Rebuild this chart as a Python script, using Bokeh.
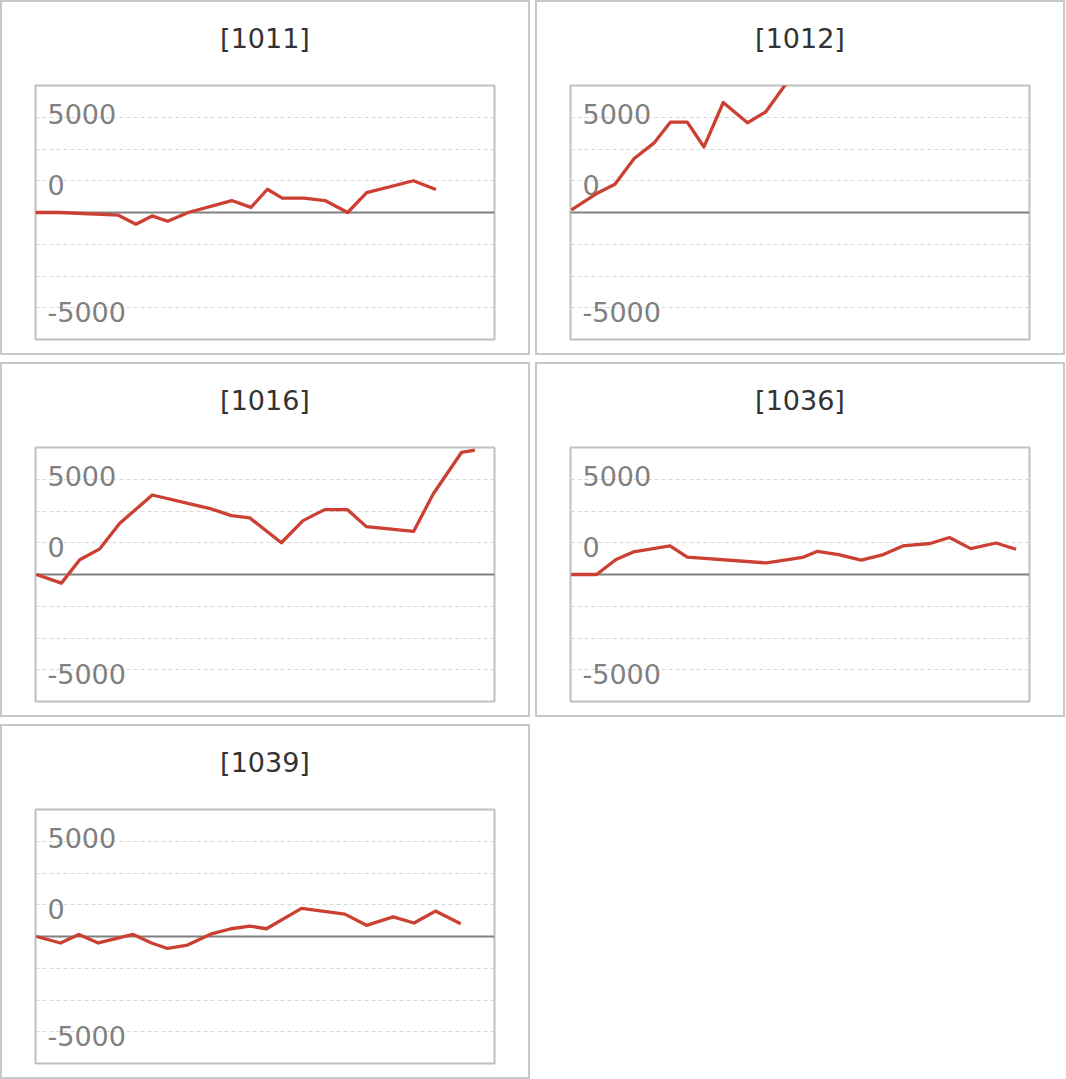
from bokeh.plotting import figure
from bokeh.models import Range1d, FixedTicker, Grid, Title
from bokeh.layouts import column, row
from bokeh.embed import file_html
from bokeh.resources import INLINE
from bokeh.core.properties import value

# ---- data ----
names = ["1011", "1012", "1016", "1036", "1039"]

x_1011 = [0, 1.33, 4.51, 5.47, 6.35, 7.2, 8.32, 10.69, 11.74, 12.63, 13.44, 14.62, 15.77, 17.0, 18.04, 20.58, 21.81]
y_1011 = [0, 0, -210, -930, -270, -690, 0, 940, 400, 1830, 1130, 1130, 940, 0, 1560, 2500, 1810]

x_1012 = [0.05, 1.42, 2.42, 3.47, 4.54, 5.45, 6.36, 7.27, 8.32, 9.64, 10.64, 11.82]
y_1012 = [200, 1490, 2230, 4250, 5460, 7120, 7120, 5160, 8660, 7070, 7930, 10300]

x_1016 = [0.05, 1.41, 2.41, 3.5, 4.59, 6.36, 9.58, 10.67, 11.67, 13.39, 14.57, 15.75, 16.98, 18.02, 20.6, 21.66, 23.2, 23.93]
y_1016 = [0, -680, 1160, 2020, 4030, 6260, 5160, 4640, 4460, 2500, 4240, 5110, 5110, 3770, 3400, 6340, 9610, 9800]

x_1036 = [0.05, 1.42, 2.48, 3.42, 5.42, 6.36, 10.68, 12.64, 13.45, 14.6, 15.83, 17.04, 18.1, 19.59, 20.64, 21.8, 23.18, 24.27]
y_1036 = [0, 0, 1180, 1780, 2250, 1360, 910, 1340, 1830, 1570, 1130, 1570, 2250, 2440, 2910, 2040, 2480, 1990]

x_1039 = [0.05, 1.36, 2.36, 3.42, 5.32, 6.32, 7.19, 8.28, 9.59, 10.64, 11.68, 12.58, 14.49, 16.85, 18.03, 19.48, 20.62, 21.78, 23.16]
y_1039 = [0, -510, 160, -510, 160, -510, -940, -670, 210, 610, 820, 610, 2210, 1760, 880, 1540, 1060, 2000, 1010]

series_x = [x_1011, x_1012, x_1016, x_1036, x_1039]
series_y = [y_1011, y_1012, y_1016, y_1036, y_1039]

x_extent = [0, 25]
y_extent = [-10000, 10000]
grid_ticks = [-7500, -5000, -2500, 2500, 5000, 7500]
zero_tick = [0]
tick_labels = ["5000", "0", "-5000"]
tick_label_y = [7750, 2200, -7800]

LINE_RED = "#cc4033"
FONT = "DejaVu Sans"


def make_panel(name, xs, ys):
    p = figure(width=526, height=351, output_backend="svg", toolbar_location=None,
               x_range=Range1d(*x_extent), y_range=Range1d(*y_extent),
               x_axis_location=None, y_axis_location=None,
               min_border_left=33, min_border_right=38,
               min_border_top=83, min_border_bottom=18)
    p.title.visible = False
    p.grid.visible = False
    # empty spacer between the frame and the title
    p.add_layout(Title(text=" ", text_font_size="1px", standoff=24), "above")
    p.add_layout(Title(text="[" + name + "]", align="center", text_font=FONT,
                       text_font_size="27px", text_font_style="normal",
                       text_color="#333333", standoff=10), "above")
    p.outline_line_color = "#c0c0c0"
    p.outline_line_width = 2
    p.background_fill_color = "white"
    p.border_fill_color = "white"

    p.add_layout(Grid(dimension=1, ticker=FixedTicker(ticks=grid_ticks),
                      grid_line_color="#d6d6d6", grid_line_dash="4 3", grid_line_width=1))
    p.add_layout(Grid(dimension=1, ticker=FixedTicker(ticks=zero_tick),
                      grid_line_color="#808080", grid_line_width=2))

    p.text(x=[x_extent[0]] * len(tick_labels), y=tick_label_y, text=tick_labels,
           x_offset=12, text_baseline="alphabetic", text_align="left",
           text_font=value(FONT), text_font_size="27px", text_color="#808080")

    p.line(xs, ys, line_color=LINE_RED, line_width=3.3, line_join="round")
    p.styles = {"border": "2px solid #c8c8c8", "box-sizing": "content-box"}
    return p


panels = [make_panel(n, xs, ys) for n, xs, ys in zip(names, series_x, series_y)]

layout = column(
    row(panels[0], panels[1], spacing=5),
    row(panels[2], panels[3], spacing=5),
    row(panels[4], spacing=5),
    spacing=7,
)

open("out.html", "w").write(file_html(layout, INLINE))
